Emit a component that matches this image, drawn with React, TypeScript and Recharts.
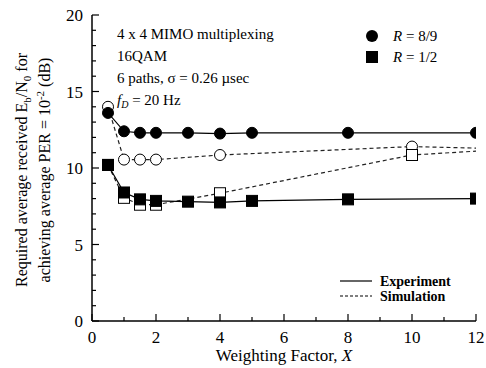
import { Line, LineChart, XAxis, YAxis } from "recharts";

// X values and required Eb/N0 (dB)
const expX = [0.5, 1, 1.5, 2, 3, 4, 5, 8, 12];
const expR89 = [13.6, 12.4, 12.3, 12.3, 12.3, 12.25, 12.3, 12.3, 12.3];
const expR12 = [10.2, 8.4, 7.95, 7.85, 7.8, 7.75, 7.85, 7.95, 8.0];

const simX = [0.5, 1, 1.5, 2, 4, 10, 12];
const simR89 = [14.0, 10.55, 10.55, 10.55, 10.85, 11.4, 11.3];
const simR12 = [10.2, 8.05, 7.6, 7.6, 8.35, 10.85, 11.1];

const xTicks = [0, 1, 2, 3, 4, 5, 6, 7, 8, 9, 10, 11, 12];
const yTicks = [0, 1, 2, 3, 4, 5, 6, 7, 8, 9, 10, 11, 12, 13, 14, 15, 16, 17, 18, 19, 20];

const toRows = (xs: number[], ys: number[]) => xs.map((x, i) => ({ x, y: ys[i] }));

const FONT = "'Liberation Serif', 'Times New Roman', 'DejaVu Serif', serif";

const circleDot = (filled: boolean, skipLast: boolean) => (p: any) => {
  if (skipLast && p.payload.x === 12) return <g key={p.index} />;
  return (
    <circle
      key={p.index}
      cx={p.cx}
      cy={p.cy}
      r={5.5}
      fill={filled ? "#000" : "#fff"}
      stroke="#000"
      strokeWidth={1}
    />
  );
};

const squareDot = (filled: boolean, skipLast: boolean) => (p: any) => {
  if (skipLast && p.payload.x === 12) return <g key={p.index} />;
  return (
    <rect
      key={p.index}
      x={p.cx - 5.5}
      y={p.cy - 5.5}
      width={11}
      height={11}
      fill={filled ? "#000" : "#fff"}
      stroke="#000"
      strokeWidth={1}
    />
  );
};

const BottomTick = (p: any) => {
  const v = p.payload.value;
  const major = v % 2 === 0;
  return (
    <g>
      <line x1={p.x} x2={p.x} y1={p.y} y2={p.y - (major ? 7 : 4)} stroke="#000" strokeWidth={1.2} />
      {major && (
        <text x={p.x} y={p.y + 22} textAnchor="middle" style={{ fontFamily: FONT }} fontSize={17} fill="#000">
          {v}
        </text>
      )}
    </g>
  );
};

const TopTick = (p: any) => {
  const major = p.payload.value % 2 === 0;
  return <line x1={p.x} x2={p.x} y1={p.y} y2={p.y + (major ? 7 : 4)} stroke="#000" strokeWidth={1.2} />;
};

const LeftTick = (p: any) => {
  const v = p.payload.value;
  const major = v % 5 === 0;
  return (
    <g>
      <line x1={p.x} x2={p.x + (major ? 7 : 4)} y1={p.y} y2={p.y} stroke="#000" strokeWidth={1.2} />
      {major && (
        <text x={p.x - 9} y={p.y + 6} textAnchor="end" style={{ fontFamily: FONT }} fontSize={17} fill="#000">
          {v}
        </text>
      )}
    </g>
  );
};

const RightTick = (p: any) => {
  const major = p.payload.value % 5 === 0;
  return <line x1={p.x} x2={p.x - (major ? 7 : 4)} y1={p.y} y2={p.y} stroke="#000" strokeWidth={1.2} />;
};

const Overlay = () => (
  <svg
    width={486}
    height={368}
    style={{ position: "absolute", left: 0, top: 0, pointerEvents: "none", fontFamily: FONT }}
    fill="#000"
  >
    <g transform="translate(27,170) rotate(-90)">
      <text textAnchor="middle" fontSize={16}>
        Required average received E<tspan fontSize={11} dy={4}>b</tspan>
        <tspan dy={-4}>/N</tspan>
        <tspan fontSize={11} dy={4}>0</tspan>
        <tspan dy={-4}> for</tspan>
      </text>
    </g>
    <g transform="translate(50,170) rotate(-90)">
      <text textAnchor="middle" fontSize={16}>
        achieving average PER = 10<tspan fontSize={11} dy={-6}>-2</tspan>
        <tspan dy={6}> (dB)</tspan>
      </text>
    </g>
    <text x={284} y={361} textAnchor="middle" fontSize={17}>
      Weighting Factor, <tspan fontStyle="italic">X</tspan>
    </text>

    <text x={117} y={39} fontSize={15}>4 x 4 MIMO multiplexing</text>
    <text x={117} y={61} fontSize={15}>16QAM</text>
    <text x={117} y={83} fontSize={15}>6 paths, σ = 0.26 µsec</text>
    <text x={117} y={105} fontSize={15}>
      <tspan fontStyle="italic">f</tspan>
      <tspan fontStyle="italic" fontSize={10} dy={3}>D</tspan>
      <tspan dy={-3}> = 20 Hz</tspan>
    </text>

    <circle cx={372} cy={36} r={6} fill="#000" />
    <text x={393} y={41} fontSize={15}>
      <tspan fontStyle="italic">R</tspan> = 8/9
    </text>
    <rect x={366} y={51} width={12} height={12} fill="#000" />
    <text x={393} y={62} fontSize={15}>
      <tspan fontStyle="italic">R</tspan> = 1/2
    </text>

    <line x1={340} x2={372} y1={281} y2={281} stroke="#000" strokeWidth={1.2} />
    <text x={380} y={286} fontSize={14} fontWeight="bold">Experiment</text>
    <line x1={340} x2={372} y1={296} y2={296} stroke="#000" strokeWidth={1.2} strokeDasharray="3 2" />
    <text x={380} y={301} fontSize={14} fontWeight="bold">Simulation</text>
  </svg>
);

export default function App() {
  return (
    <div style={{ position: "absolute", left: 0, top: 0, width: 486, height: 368, background: "#fff" }}>
      <LineChart width={486} height={368} margin={{ top: 15, right: 10, bottom: 0, left: 0 }}>
        <XAxis
          xAxisId="b"
          type="number"
          dataKey="x"
          domain={[0, 12]}
          ticks={xTicks}
          interval={0}
          height={47}
          tickSize={0}
          tickMargin={0}
          tick={BottomTick}
          tickLine={false}
          axisLine={{ stroke: "#000", strokeWidth: 1.5 }}
          allowDataOverflow
        />
        <XAxis
          xAxisId="t"
          orientation="top"
          type="number"
          dataKey="x"
          domain={[0, 12]}
          ticks={xTicks}
          interval={0}
          height={0}
          tickSize={0}
          tickMargin={0}
          tick={TopTick}
          tickLine={false}
          axisLine={{ stroke: "#000", strokeWidth: 1.5 }}
        />
        <YAxis
          yAxisId="l"
          type="number"
          domain={[0, 20]}
          ticks={yTicks}
          interval={0}
          width={92}
          tickSize={0}
          tickMargin={0}
          tick={LeftTick}
          tickLine={false}
          axisLine={{ stroke: "#000", strokeWidth: 1.5 }}
        />
        <YAxis
          yAxisId="r"
          orientation="right"
          type="number"
          domain={[0, 20]}
          ticks={yTicks}
          interval={0}
          width={0}
          tickSize={0}
          tickMargin={0}
          tick={RightTick}
          tickLine={false}
          axisLine={{ stroke: "#000", strokeWidth: 1.5 }}
        />

        <Line
          xAxisId="b"
          yAxisId="l"
          data={toRows(simX, simR89)}
          dataKey="y"
          stroke="#222"
          strokeWidth={1.2}
          strokeDasharray="4 3"
          dot={circleDot(false, true)}
          isAnimationActive={false}
        />
        <Line
          xAxisId="b"
          yAxisId="l"
          data={toRows(simX, simR12)}
          dataKey="y"
          stroke="#222"
          strokeWidth={1.2}
          strokeDasharray="4 3"
          dot={squareDot(false, true)}
          isAnimationActive={false}
        />
        <Line
          xAxisId="b"
          yAxisId="l"
          data={toRows(expX, expR89)}
          dataKey="y"
          stroke="#000"
          strokeWidth={1.2}
          dot={circleDot(true, false)}
          isAnimationActive={false}
        />
        <Line
          xAxisId="b"
          yAxisId="l"
          data={toRows(expX, expR12)}
          dataKey="y"
          stroke="#000"
          strokeWidth={1.2}
          dot={squareDot(true, false)}
          isAnimationActive={false}
        />
      </LineChart>
      <Overlay />
    </div>
  );
}
